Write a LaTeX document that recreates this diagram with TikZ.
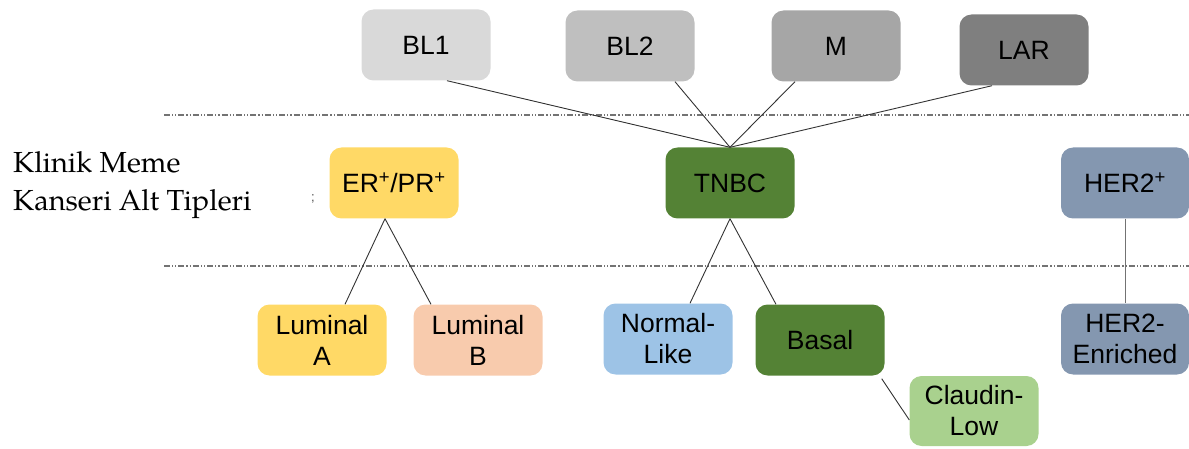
\documentclass[tikz,border=0pt]{standalone}
\usepackage{fontspec}
\setmainfont{Liberation Sans}
\newfontfamily\palfont{TeX Gyre Pagella}
\definecolor{cBLa}{HTML}{D9D9D9}
\definecolor{cBLb}{HTML}{BFBFBF}
\definecolor{cM}{HTML}{A6A6A6}
\definecolor{cLAR}{HTML}{7F7F7F}
\definecolor{cYel}{HTML}{FFD966}
\definecolor{cPeach}{HTML}{F8CBAD}
\definecolor{cBlue}{HTML}{9DC3E6}
\definecolor{cGreen}{HTML}{548235}
\definecolor{cLGreen}{HTML}{A9D18E}
\definecolor{cSlate}{HTML}{8497B0}
\tikzset{
  box/.style={rounded corners=12pt, minimum width=129pt, minimum height=71pt, inner sep=0pt,
    align=center, font=\fontsize{26.5}{31}\selectfont, text=black},
  link/.style={draw=black!80, line width=0.9pt},
  sep/.style={draw=black!55, line width=1.2pt, dash pattern=on 6pt off 2pt on 1.2pt off 2pt on 1.2pt off 2pt}
}
\begin{document}
\begin{tikzpicture}[x=1pt,y=-1pt]
\useasboundingbox (0,0) rectangle (1189,449);
% separators
\coordinate (s1a) at (164,115); \coordinate (s1b) at (1189,115);
\coordinate (s2a) at (164,266); \coordinate (s2b) at (1189,266);
\draw[sep] (s1a) -- (s1b);
\draw[sep] (s2a) -- (s2b);
% top row
\node[box, fill=cBLa] (bl1) at (426,45) {BL1};
\node[box, fill=cBLb] (bl2) at (630,46) {BL2};
\node[box, fill=cM] (m) at (836,46) {M};
\node[box, fill=cLAR] (lar) at (1024,50) {LAR};
% middle row
\node[box, fill=cYel] (er) at (394,183) {ER\textsuperscript{+}/PR\textsuperscript{+}};
\node[box, fill=cGreen] (tnbc) at (730,183) {TNBC};
\node[box, fill=cSlate, minimum width=128pt] (her) at (1125,183) {HER2\textsuperscript{+}};
% bottom row
\node[box, fill=cYel] (luma) at (322,340) {Luminal\\A};
\node[box, fill=cPeach] (lumb) at (478,340) {Luminal\\B};
\node[box, fill=cBlue] (norm) at (668,339) {Normal-\\Like};
\node[box, fill=cGreen] (basal) at (820,340) {Basal};
\node[box, fill=cLGreen, minimum height=70pt] (claud) at (974,411) {Claudin-\\Low};
\node[box, fill=cSlate, minimum width=128pt] (here) at (1125,339) {HER2-\\Enriched};
% left label
\node[anchor=west, align=left, inner sep=0pt, font=\palfont\fontsize{29}{38}\selectfont] (lbl) at (13,185) {Klinik Meme\\Kanseri Alt Tipleri};
\node[inner sep=0pt, text=black!70, font=\fontsize{13}{13}\selectfont] (frag) at (313,199) {;};
% connectors
\coordinate (tn) at ([xshift=0pt]tnbc.north);
\draw[link] ([xshift=21pt]bl1.south) -- (tn);
\draw[link] ([xshift=45pt]bl2.south) -- (tn);
\draw[link] ([xshift=-41pt]m.south) -- (tn);
\draw[link] ([xshift=-32pt]lar.south) -- (tn);
\coordinate (es) at ([xshift=-9pt]er.south);
\draw[link] (es) -- ([xshift=23pt]luma.north);
\draw[link] (es) -- ([xshift=-47pt]lumb.north);
\draw[link] (tnbc.south) -- ([xshift=22pt]norm.north);
\draw[link] (tnbc.south) -- ([xshift=-44pt]basal.north);
\draw[link] ([shift={(-3pt,-3pt)}]basal.south east) -- ([yshift=-9pt]claud.west);
\draw[link, draw=black!55] (her.south) -- (here.north);
\end{tikzpicture}
\end{document}
